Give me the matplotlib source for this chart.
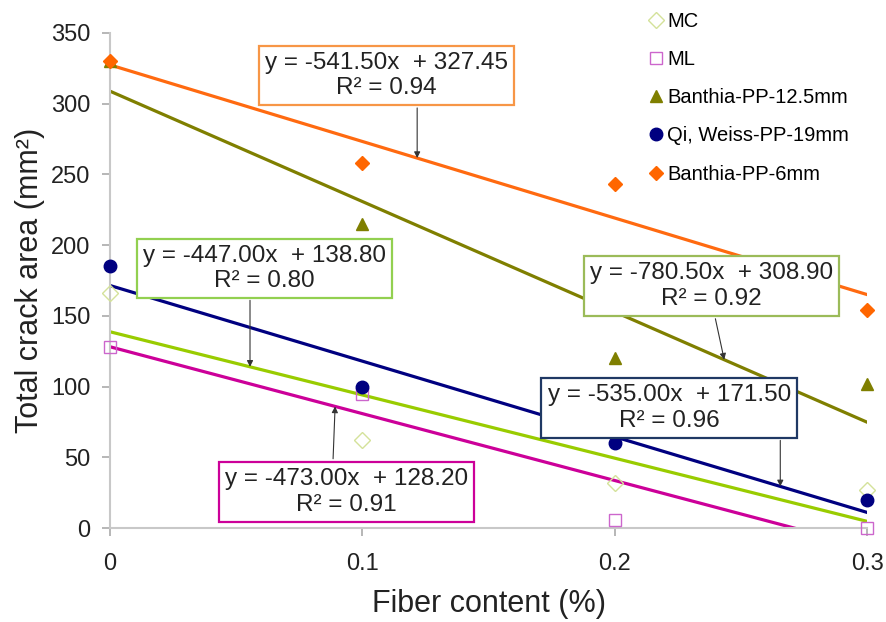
import numpy as np
import matplotlib
matplotlib.use("Agg")
import matplotlib.pyplot as plt

plt.rcParams['font.family'] = ['Liberation Sans', 'DejaVu Sans']

fiber = [0, 0.1, 0.2, 0.3]
mc = [166, 62, 32, 27]
ml = [128, 95, 6, 0]
banthia_125 = [330, 215, 120, 102]
qi_weiss_19 = [185, 100, 60, 20]
banthia_6 = [330, 258, 243, 154]

series_labels = ['MC', 'ML', 'Banthia-PP-12.5mm', 'Qi, Weiss-PP-19mm', 'Banthia-PP-6mm']

# trendline equations (slope, intercept, R²)
fits = {
    'MC': (-447.00, 138.80, 0.80),
    'ML': (-473.00, 128.20, 0.91),
    'Banthia-PP-12.5mm': (-780.50, 308.90, 0.92),
    'Qi, Weiss-PP-19mm': (-535.00, 171.50, 0.96),
    'Banthia-PP-6mm': (-541.50, 327.45, 0.94),
}


def main():
    fig = plt.figure(figsize=(8.86, 6.22), dpi=100)
    ax = fig.add_axes([0.124, 0.151, 0.855, 0.796])

    values = [mc, ml, banthia_125, qi_weiss_19, banthia_6]
    line_colors = ['#99cc00', '#cc0099', '#7f7f00', '#000080', '#ff6a10']
    styles = [
        dict(marker='D', mfc='none', mec='#d4e29a', ms=8, mew=1.0),
        dict(marker='s', mfc='none', mec='#cc66cc', ms=9, mew=1.0),
        dict(marker='^', mfc='#7f7f00', mec='#7f7f00', ms=9),
        dict(marker='o', mfc='#000080', mec='#000080', ms=9),
        dict(marker='D', mfc='#ff6600', mec='#ff6600', ms=7.5),
    ]

    xs = np.array([0, 0.3])
    for lab, col in zip(series_labels, line_colors):
        m, b, _ = fits[lab]
        ax.plot(xs, m * xs + b, color=col, lw=2.3, zorder=2)

    for lab, vals, st in zip(series_labels, values, styles):
        ax.plot(fiber, vals, linestyle='none', label=lab, clip_on=False, zorder=3, **st)

    # equation boxes: label, text centre (x, y), box edge, arrow start (x, y), arrow end x
    boxes = [
        ('Banthia-PP-6mm', 0.1094, 320, '#f79646', 0.1217, 297, 0.1217),
        ('MC', 0.0612, 183.5, '#92d050', 0.0555, 161, 0.0555),
        ('ML', 0.0937, 25.5, '#cc0099', 0.0884, 49, 0.0892),
        ('Banthia-PP-12.5mm', 0.2382, 171, '#9bbb59', 0.2398, 148, 0.2433),
        ('Qi, Weiss-PP-19mm', 0.2215, 85, '#1f3864', 0.2655, 62, 0.2655),
    ]
    for lab, tx, ty, ec, ax0, ay0, ax1 in boxes:
        m, b, r2 = fits[lab]
        txt = f"y = {m:.2f}x  + {b:.2f}\nR² = {r2:.2f}"
        ax.text(tx, ty, txt, ha='center', va='center', fontsize=17.5,
                color='#222222', linespacing=1.2, zorder=5,
                bbox=dict(boxstyle='square,pad=0.25', fc='white', ec=ec, lw=1.6))
        ax.annotate('', xy=(ax1, m * ax1 + b), xytext=(ax0, ay0),
                    arrowprops=dict(arrowstyle='-|>', color='#333333', lw=0.8,
                                    mutation_scale=9, shrinkA=0, shrinkB=0), zorder=4)

    ax.set_xlim(0, 0.3)
    ax.set_ylim(0, 350)
    ax.set_xticks(fiber)
    ax.set_xticklabels(['0', '0.1', '0.2', '0.3'])
    ax.set_yticks(range(0, 351, 50))
    for s in ['top', 'right']:
        ax.spines[s].set_visible(False)
    for s in ['left', 'bottom']:
        ax.spines[s].set_color('#c8c8c8')
        ax.spines[s].set_linewidth(1.5)
    ax.tick_params(axis='both', colors='#aaaaaa', labelcolor='#222222',
                   labelsize=17, length=6, width=1.2, direction='out')
    ax.tick_params(axis='x', pad=12)
    ax.tick_params(axis='y', pad=8)

    ax.set_xlabel('Fiber content (%)', fontsize=22, color='#222222', labelpad=10)
    ax.set_ylabel('Total crack area (mm²)', fontsize=22, color='#222222', labelpad=4)

    fig.legend(loc='upper left', bbox_to_anchor=(0.72, 1.0), frameon=False,
               fontsize=14.5, handlelength=0.6, handletextpad=0.25,
               labelspacing=0.95, borderaxespad=0.2)

    fig.savefig('out.png', dpi=100)


if __name__ == "__main__":
    main()
